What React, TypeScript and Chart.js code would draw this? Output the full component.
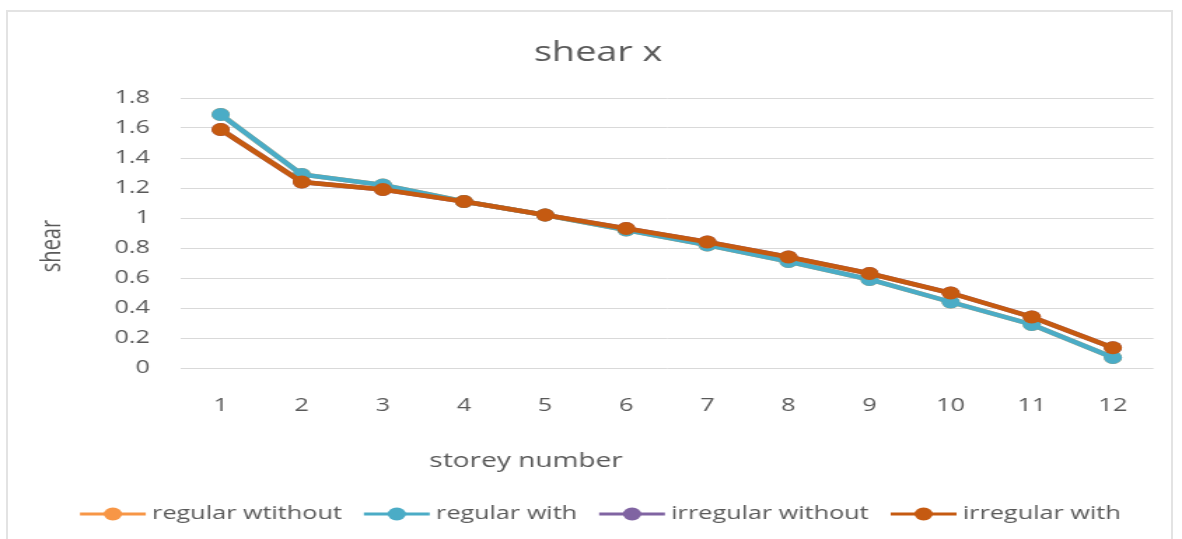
import React, { useEffect, useRef } from 'react';
import { Chart, registerables } from 'chart.js';

Chart.register(...registerables);

const categories = ['1', '2', '3', '4', '5', '6', '7', '8', '9', '10', '11', '12'];
const regularWithout = [1.69, 1.29, 1.22, 1.11, 1.02, 0.92, 0.82, 0.71, 0.59, 0.44, 0.29, 0.07];
const regularWith = [1.69, 1.29, 1.22, 1.11, 1.02, 0.92, 0.82, 0.71, 0.59, 0.44, 0.29, 0.07];
const irregularWithout = [1.59, 1.24, 1.19, 1.11, 1.02, 0.93, 0.84, 0.74, 0.63, 0.5, 0.34, 0.135];
const irregularWith = [1.59, 1.24, 1.19, 1.11, 1.02, 0.93, 0.84, 0.74, 0.63, 0.5, 0.34, 0.135];
const seriesNames = ['regular wtithout', 'regular with', 'irregular without', 'irregular with'];
const seriesColors = ['#F79646', '#4BACC6', '#8064A2', '#C55A11'];
const chartTitle = 'shear x';
const xTitle = 'storey number';
const yTitle = 'shear';

const STRETCH = 1.4;
const PAGE_W = 1182;
const PAGE_H = 539;
const CANVAS_W = Math.round(PAGE_W / STRETCH);
const FONT = "'Open Sans', sans-serif";
const TEXT = '#595959';
const BOTTOM_PAD = 60;

const textPlugin = {
  id: 'textPlugin',
  afterDraw(chart: any) {
    const { ctx, chartArea } = chart;
    ctx.save();
    ctx.fillStyle = TEXT;
    ctx.textAlign = 'center';
    ctx.textBaseline = 'middle';
    ctx.font = `27px ${FONT}`;
    ctx.fillText(chartTitle, chartArea.left + 298.5, chartArea.top - 45);
    ctx.font = `20px ${FONT}`;
    ctx.fillText(xTitle, chartArea.left + 247, chartArea.bottom + 93);
    ctx.save();
    ctx.translate(chartArea.left - 91.6, chartArea.top + 148);
    ctx.rotate(-Math.PI / 2);
    ctx.fillText(yTitle, 0, 0);
    ctx.restore();

    // legend: line + circle marker, then label
    ctx.font = `18px ${FONT}`;
    ctx.textAlign = 'left';
    const cy = chartArea.bottom + 146;
    let x = chartArea.left - 71.5;
    chart.data.datasets.forEach((ds: any) => {
      const color = ds.borderColor;
      ctx.strokeStyle = color;
      ctx.lineWidth = 3;
      ctx.beginPath();
      ctx.moveTo(x, cy);
      ctx.lineTo(x + 47, cy);
      ctx.stroke();
      ctx.fillStyle = color;
      ctx.beginPath();
      ctx.arc(x + 23.5, cy, 6.5, 0, Math.PI * 2);
      ctx.fill();
      ctx.fillStyle = TEXT;
      const tx = x + 51.5;
      ctx.fillText(ds.label, tx, cy);
      x = tx + ctx.measureText(ds.label).width + 15.7;
    });
    ctx.restore();
  },
};

export default function App() {
  const ref = useRef<HTMLCanvasElement | null>(null);

  useEffect(() => {
    if (!ref.current) return;
    const all = [regularWithout, regularWith, irregularWithout, irregularWith];
    const orders = [2, 1, 3, 0];
    const chart = new Chart(ref.current, {
      type: 'line',
      data: {
        labels: categories,
        datasets: all.map((d, i) => ({
          label: seriesNames[i],
          data: d,
          borderColor: seriesColors[i],
          backgroundColor: seriesColors[i],
          pointBackgroundColor: seriesColors[i],
          pointBorderColor: seriesColors[i],
          pointStyle: 'circle',
          borderWidth: 4.5,
          pointRadius: 6.5,
          pointBorderWidth: 0,
          tension: 0,
          order: orders[i],
        })) as any,
      },
      options: {
        animation: false,
        responsive: false,
        devicePixelRatio: 1,
        layout: { padding: { top: 98, left: 0, right: CANVAS_W - 823.6, bottom: BOTTOM_PAD } },
        plugins: {
          title: { display: false },
          legend: { display: false },
          tooltip: { enabled: false },
        },
        scales: {
          x: {
            type: 'category',
            offset: true,
            grid: { display: false, drawTicks: false },
            border: { display: false },
            ticks: { color: TEXT, font: { family: FONT, size: 18 }, padding: 27, maxRotation: 0 },
            afterFit(scale: any) {
              scale.height = PAGE_H - 368 - BOTTOM_PAD;
            },
          },
          y: {
            min: 0,
            max: 1.8,
            grid: { color: '#D9D9D9', lineWidth: 1, drawTicks: false },
            border: { display: false },
            ticks: {
              stepSize: 0.2,
              color: TEXT,
              font: { family: FONT, size: 18 },
              padding: 21.6,
              callback: (v: any) => Number(v).toFixed(1).replace(/\.0$/, ''),
            },
            afterFit(scale: any) {
              scale.width = 128.6;
            },
          },
        },
      },
      plugins: [textPlugin],
    });
    return () => chart.destroy();
  }, []);

  return (
    <div style={{ position: 'fixed', left: 0, top: 0, width: PAGE_W, height: PAGE_H, background: '#fff', overflow: 'hidden' }}>
      <canvas
        ref={ref}
        width={CANVAS_W}
        height={PAGE_H}
        style={{ width: `${PAGE_W}px`, height: `${PAGE_H}px`, display: 'block' }}
      />
      <div
        style={{
          position: 'absolute',
          left: 6,
          top: 10,
          width: 1167,
          height: 560,
          border: '2px solid #E3E3E3',
          boxSizing: 'border-box',
          pointerEvents: 'none',
        }}
      />
    </div>
  );
}
